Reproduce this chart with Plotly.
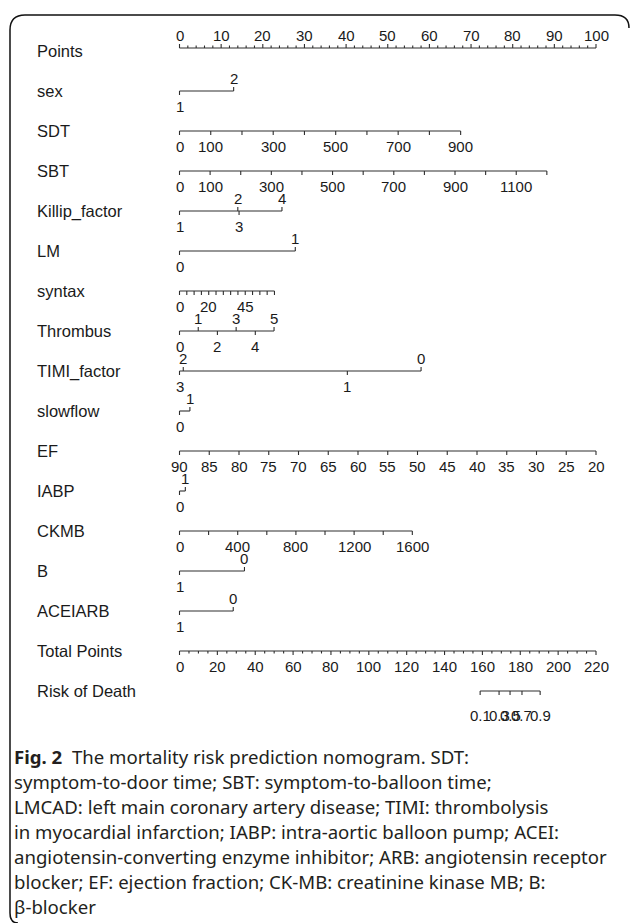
import plotly.graph_objects as go

W, H = 630, 923

# ---------------- data ----------------
row_names = ["Points", "sex", "SDT", "SBT", "Killip_factor", "LM", "syntax",
             "Thrombus", "TIMI_factor", "slowflow", "EF", "IABP", "CKMB", "B",
             "ACEIARB", "Total Points", "Risk of Death"]

points_major = [0, 10, 20, 30, 40, 50, 60, 70, 80, 90, 100]
points_minor = [0, 2, 4, 6, 8, 10, 12, 14, 16, 18, 20, 22, 24, 26, 28, 30, 32, 34, 36, 38,
                40, 42, 44, 46, 48, 50, 52, 54, 56, 58, 60, 62, 64, 66, 68, 70, 72, 74,
                76, 78, 80, 82, 84, 86, 88, 90, 92, 94, 96, 98, 100]

sex_levels = ["1", "2"]
sex_points = [0.0, 13.0]

sdt_ticks = [0, 100, 200, 300, 400, 500, 600, 700, 800, 900]
sdt_labels = ["0", "100", "", "300", "", "500", "", "700", "", "900"]
sdt_max_value, sdt_max_points = 900, 67.5

sbt_ticks = [0, 100, 200, 300, 400, 500, 600, 700, 800, 900, 1000, 1100, 1200]
sbt_labels = ["0", "100", "", "300", "", "500", "", "700", "", "900", "", "1100", ""]
sbt_max_value, sbt_max_points = 1200, 88.2

killip_levels = ["1", "2", "3", "4"]
killip_points = [0.0, 14.0, 14.3, 24.6]

lm_levels = ["0", "1"]
lm_points = [0.0, 27.8]

syntax_ticks = [0, 5, 10, 15, 20, 25, 30, 35, 40, 45, 50, 55, 60, 65]
syntax_labels = ["0", "", "", "", "20", "", "", "", "", "45", "", "", "", ""]
syntax_max_value, syntax_max_points = 65, 22.8

thrombus_levels = ["0", "1", "2", "3", "4", "5"]
thrombus_points = [0.0, 4.5, 9.1, 13.6, 18.2, 22.7]

timi_levels = ["3", "2", "1", "0"]
timi_points = [0.0, 0.9, 40.3, 58.0]

slowflow_levels = ["0", "1"]
slowflow_points = [0.0, 2.5]

ef_ticks = [90, 85, 80, 75, 70, 65, 60, 55, 50, 45, 40, 35, 30, 25, 20]
ef_value_at_0, ef_value_at_100 = 90, 20

iabp_levels = ["0", "1"]
iabp_points = [0.0, 1.4]

ckmb_ticks = [0, 200, 400, 600, 800, 1000, 1200, 1400, 1600]
ckmb_labels = ["0", "", "400", "", "800", "", "1200", "", "1600"]
ckmb_max_value, ckmb_max_points = 1600, 55.9

b_levels = ["1", "0"]
b_points = [0.0, 15.6]

acei_levels = ["1", "0"]
acei_points = [0.0, 12.9]

total_major = [0, 20, 40, 60, 80, 100, 120, 140, 160, 180, 200, 220]
total_minor = [0, 5, 10, 15, 20, 25, 30, 35, 40, 45, 50, 55, 60, 65, 70, 75, 80, 85, 90,
               95, 100, 105, 110, 115, 120, 125, 130, 135, 140, 145, 150, 155, 160, 165,
               170, 175, 180, 185, 190, 195, 200, 205, 210, 215, 220]
total_max = 220

risk_labels = ["0.1", "0.3", "0.5", "0.7", "0.9"]
risk_total_points = [158.8, 168.8, 174.6, 180.9, 190.5]

caption_lines = [
    "<b>Fig. 2</b>\u00a0\u00a0The mortality risk prediction nomogram. SDT:",
    "symptom-to-door time; SBT: symptom-to-balloon time;",
    "LMCAD: left main coronary artery disease; TIMI: thrombolysis",
    "in myocardial infarction; IABP: intra-aortic balloon pump; ACEI:",
    "angiotensin-converting enzyme inhibitor; ARB: angiotensin receptor",
    "blocker; EF: ejection fraction; CK-MB: creatinine kinase MB; B:",
    "\u03b2-blocker",
]

# ---------------- layout helpers ----------------
P0_PX, P100_PX = 179.5, 596.0          # pixel position of 0 and 100 points
span = 100.0 / (P100_PX - P0_PX) * W
X0 = -P0_PX / W * span
X1 = X0 + span

ROW_TOP, ROW_STEP = 51, 40
row_y = [ROW_TOP + ROW_STEP * i for i in range(len(row_names))]
line_y = list(row_y)
line_y[0] = row_y[0] - 3

LINE_COLOR = "#2e2e2e"
TXT_COLOR = "#1a1a1a"
SANS = "Arial, 'Liberation Sans', sans-serif"
NUM_FONT = dict(family=SANS, size=15, color=TXT_COLOR)
LBL_FONT = dict(family=SANS, size=16.5, color=TXT_COLOR)
TICK = 4.0
MINOR = 2.5
LAB_OFF = 14

fig = go.Figure()
annotations = []


def add_axis(y, pts, dirs, lens=None, labels=None, label_sides=None, width=1.1):
    xs, ys = [min(pts), max(pts), None], [y, y, None]
    for i, p in enumerate(pts):
        L = TICK if lens is None else lens[i]
        d = -1 if dirs[i] == "up" else 1
        xs += [p, p, None]
        ys += [y, y + d * L, None]
    fig.add_trace(go.Scatter(x=xs, y=ys, mode="lines", hoverinfo="skip",
                             line=dict(color=LINE_COLOR, width=width), showlegend=False))
    if labels:
        for i, (p, t) in enumerate(zip(pts, labels)):
            if not t:
                continue
            side = label_sides[i] if label_sides else "below"
            yy = y - LAB_OFF + 1 if side == "above" else y + LAB_OFF + 1
            annotations.append(dict(x=p, y=yy, xref="x", yref="y", text=t, showarrow=False,
                                    font=NUM_FONT, xanchor="center", yanchor="middle"))


def alt_sides(n, first="below"):
    other = "above" if first == "below" else "below"
    return [first if i % 2 == 0 else other for i in range(n)]


def sides_to_dirs(sides):
    return ["up" if s == "above" else "down" for s in sides]


# Row labels
for name, y in zip(row_names, row_y):
    annotations.append(dict(x=35 / W, y=y, xref="paper", yref="y", text=name, showarrow=False,
                            font=LBL_FONT, xanchor="left", yanchor="middle"))

# Points
pm_len = [TICK if p in points_major else MINOR for p in points_minor]
add_axis(line_y[0], points_minor, ["up"] * len(points_minor), pm_len)
for p in points_major:
    annotations.append(dict(x=p, y=line_y[0] - 13, xref="x", yref="y", text=str(p),
                            showarrow=False, font=NUM_FONT, xanchor="center", yanchor="middle"))


def cat_row(idx, levels, pts, sides):
    add_axis(line_y[idx], pts, sides_to_dirs(sides), labels=levels, label_sides=sides)


cat_row(1, sex_levels, sex_points, ["below", "above"])

# SDT
add_axis(line_y[2], [v / sdt_max_value * sdt_max_points for v in sdt_ticks],
         ["down"] * len(sdt_ticks), labels=sdt_labels)
# SBT
add_axis(line_y[3], [v / sbt_max_value * sbt_max_points for v in sbt_ticks],
         ["down"] * len(sbt_ticks), labels=sbt_labels)
# Killip
cat_row(4, killip_levels, killip_points, ["below", "above", "below", "above"])
# LM
cat_row(5, lm_levels, lm_points, ["below", "above"])
# syntax
add_axis(line_y[6], [v / syntax_max_value * syntax_max_points for v in syntax_ticks],
         ["down"] * len(syntax_ticks), labels=syntax_labels)
# Thrombus
cat_row(7, thrombus_levels, thrombus_points, alt_sides(len(thrombus_levels)))
# TIMI
cat_row(8, timi_levels, timi_points, ["below", "above", "below", "above"])
# slowflow
cat_row(9, slowflow_levels, slowflow_points, ["below", "above"])
# EF
add_axis(line_y[10], [(ef_value_at_0 - v) / (ef_value_at_0 - ef_value_at_100) * 100 for v in ef_ticks],
         ["down"] * len(ef_ticks), labels=[str(v) for v in ef_ticks])
# IABP
cat_row(11, iabp_levels, iabp_points, ["below", "above"])
# CKMB
add_axis(line_y[12], [v / ckmb_max_value * ckmb_max_points for v in ckmb_ticks],
         ["down"] * len(ckmb_ticks), labels=ckmb_labels)
# B
cat_row(13, b_levels, b_points, ["below", "above"])
# ACEIARB
cat_row(14, acei_levels, acei_points, ["below", "above"])
# Total points
tm_len = [TICK if t in total_major else MINOR for t in total_minor]
add_axis(line_y[15], [t / total_max * 100 for t in total_minor], ["down"] * len(total_minor), tm_len)
for t in total_major:
    annotations.append(dict(x=t / total_max * 100, y=line_y[15] + LAB_OFF + 1, xref="x", yref="y",
                            text=str(t), showarrow=False, font=NUM_FONT,
                            xanchor="center", yanchor="middle"))
# Risk of death
add_axis(line_y[16], [t / total_max * 100 for t in risk_total_points],
         ["down"] * len(risk_total_points), labels=risk_labels)
for a in annotations[-len(risk_labels):]:
    a["y"] = line_y[16] + 24

# Caption
CAP_TOP, CAP_STEP = 756, 25
for k, line in enumerate(caption_lines):
    annotations.append(dict(x=12 / W, y=CAP_TOP + CAP_STEP * k, xref="paper", yref="y",
                            text=line, showarrow=False, xanchor="left", yanchor="middle",
                            font=dict(family="Noto Sans", size=18.6, color="#231f20")))


# Frame (rounded corners)
def px(x, y):
    return f"{x / W:.5f},{1 - y / H:.5f}"


frame_path = (f"M {px(18, 923)} Q {px(10, 923)} {px(10, 913)} L {px(10, 30)} "
              f"Q {px(10, 15)} {px(25, 15)} L {px(615, 15)} Q {px(629, 15)} {px(629, 28)}")

fig.update_layout(
    width=W, height=H, margin=dict(l=0, r=0, t=0, b=0),
    paper_bgcolor="white", plot_bgcolor="white",
    xaxis=dict(range=[X0, X1], visible=False, fixedrange=True),
    yaxis=dict(range=[H, 0], visible=False, fixedrange=True),
    annotations=annotations,
    shapes=[dict(type="path", xref="paper", yref="paper", path=frame_path,
                 line=dict(color="#111111", width=1.5))],
    showlegend=False,
)

fig.write_html("out.html")
